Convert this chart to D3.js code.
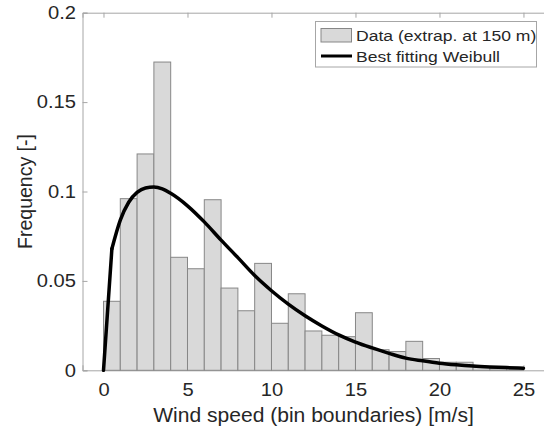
<!DOCTYPE html>
<html>
<head>
<meta charset="utf-8">
<script src="https://cdn.jsdelivr.net/npm/d3@7"></script>
<style>
  body { margin: 0; background: #fff; }
  text { font-family: "Liberation Sans", Arial, Helvetica, sans-serif; fill: #262626; }
</style>
</head>
<body>
<div id="chart"></div>
<script>
// histogram bins (lower edge, width 1 m/s) and relative frequency
var binStart = [0,1,2,3,4,5,6,7,8,9,10,11,12,13,14,15,16,17,18,19,20,21,22,23,24];
var binFreq = [0.0386,0.096,0.121,0.1724,0.0632,0.0568,0.0954,0.046,0.0333,0.0598,0.0263,0.0428,0.022,
               0.0196,0.0188,0.0322,0.0115,0.0105,0.0162,0.0066,0.0045,0.0045,0.0017,0.0009,0.0009];

// fitted weibull curve
var fitX = [0,0.5,1,1.5,2,2.5,3,3.5,4,5,6,7,8,9,10,11,12,13,14,15,16,17,18,19,20,21,22,23,24,25];
var fitY = [0,0.068,0.084,0.094,0.0995,0.102,0.1025,0.1015,0.099,0.092,0.083,0.0728,0.063,0.053,0.0445,
            0.037,0.0305,0.0248,0.0198,0.0158,0.0125,0.0095,0.0068,0.0053,0.004,0.0031,0.0024,0.0019,0.0015,0.0012];

var xTicks = [0,5,10,15,20,25];
var yTicks = [0,0.05,0.1,0.15,0.2];
var legendLabels = ["Data (extrap. at 150 m)", "Best fitting Weibull"];

var width = 544, height = 428;
var axisColor = "#a6a6a6";

var svg = d3.select("#chart").append("svg")
  .attr("width", width)
  .attr("height", height);

var x = d3.scaleLinear().domain([-1.25, 26.3]).range([82.5, 545.3]);
var y = d3.scaleLinear().domain([0, 0.2]).range([370.3, 12.7]);

// axes (ticks inside, box on)
var tickStretch = 1.12;
var gx = svg.append("g")
  .attr("transform", "translate(0," + y(0) + ")")
  .call(d3.axisBottom(x).tickValues(xTicks).tickSize(-5).tickPadding(13).tickFormat(d3.format("d")));
var gTop = svg.append("g")
  .attr("transform", "translate(0," + y(0.2) + ")")
  .call(d3.axisTop(x).tickValues(xTicks).tickSize(-5).tickFormat(""));
var gy = svg.append("g")
  .attr("transform", "translate(" + x.range()[0] + ",0)")
  .call(d3.axisLeft(y).tickValues(yTicks).tickSize(-5).tickPadding(6.5).tickFormat(function(d){ return d === 0 ? "0" : String(d); }));

[gx, gTop, gy].forEach(function(g) {
  g.select(".domain").attr("stroke", axisColor).attr("stroke-width", 1);
  g.selectAll(".tick line").attr("stroke", axisColor);
  g.selectAll("text").attr("fill", "#262626").style("font-size", "18px")
    .attr("font-family", null);
});
gx.selectAll(".tick text").attr("transform", "scale(" + tickStretch + ",1)");
gy.selectAll(".tick text")
  .attr("x", -6.5 / tickStretch)
  .attr("transform", "scale(" + tickStretch + ",1)");

// bars
svg.append("g").selectAll("rect")
  .data(binStart)
  .enter().append("rect")
  .attr("x", function(d) { return x(d); })
  .attr("y", function(d, i) { return y(binFreq[i]); })
  .attr("width", function(d) { return x(d + 1) - x(d); })
  .attr("height", function(d, i) { return y(0) - y(binFreq[i]); })
  .attr("fill", "#d9d9d9")
  .attr("stroke", "#878787")
  .attr("stroke-width", 1);

// weibull: straight first step, smooth after it
var pts = fitY.map(function(d, i) { return [x(fitX[i]), y(d)]; });
svg.append("path")
  .attr("d", d3.line().curve(d3.curveLinear)(pts.slice(0, 2)))
  .attr("fill", "none")
  .attr("stroke", "#000")
  .attr("stroke-width", 3.5)
  .attr("stroke-linecap", "round");
svg.append("path")
  .attr("d", d3.line().curve(d3.curveMonotoneX)(pts.slice(1)))
  .attr("fill", "none")
  .attr("stroke", "#000")
  .attr("stroke-width", 3.5)
  .attr("stroke-linecap", "round")
  .attr("stroke-linejoin", "round");

// axis labels
svg.append("text")
  .attr("transform", "translate(313.5,422) scale(1.08,1)")
  .attr("text-anchor", "middle")
  .style("font-size", "19.5px")
  .text("Wind speed (bin boundaries) [m/s]");
svg.append("text")
  .attr("transform", "translate(31.7,191.5) scale(1.08,1) rotate(-90)")
  .attr("text-anchor", "middle")
  .style("font-size", "19.5px")
  .text("Frequency [-]");

// legend
var lg = svg.append("g");
lg.append("rect")
  .attr("x", 315.5).attr("y", 21.5)
  .attr("width", 221).attr("height", 45.5)
  .attr("fill", "#fff")
  .attr("stroke", "#a6a6a6");
lg.append("rect")
  .attr("x", 321).attr("y", 28.5)
  .attr("width", 30.5).attr("height", 13.5)
  .attr("fill", "#d9d9d9")
  .attr("stroke", "#878787");
lg.append("line")
  .attr("x1", 321).attr("x2", 352)
  .attr("y1", 56).attr("y2", 56)
  .attr("stroke", "#000")
  .attr("stroke-width", 3);
lg.selectAll("text.lbl")
  .data(legendLabels)
  .enter().append("text")
  .attr("class", "lbl")
  .attr("transform", function(d, i) { return "translate(356," + (40.5 + i * 21) + ") scale(1.17,1)"; })
  .style("font-size", "15px")
  .text(function(d) { return d; });
</script>
</body>
</html>
